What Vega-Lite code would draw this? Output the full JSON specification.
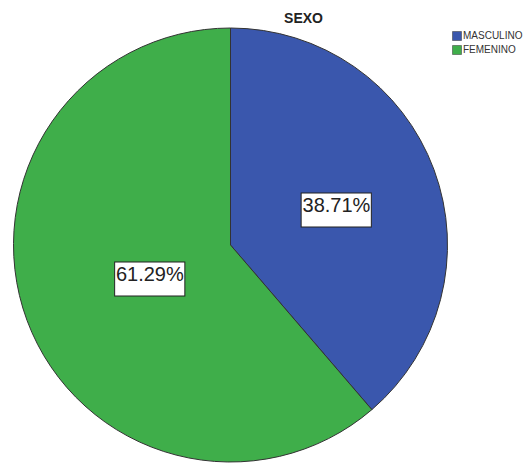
{
  "$schema": "https://vega.github.io/schema/vega-lite/v6.json",
  "autosize": "none",
  "width": 461,
  "height": 438,
  "padding": {"top": 26, "left": 0, "right": 63, "bottom": 0},
  "background": "white",
  "title": {
    "text": "SEXO",
    "font": "Liberation Sans",
    "fontSize": 14,
    "fontWeight": "bold",
    "color": "#222222",
    "anchor": "middle",
    "frame": "group",
    "baseline": "alphabetic",
    "offset": 3,
    "dx": 73,
    "dy": 14
  },
  "data": {
    "values": [
      {"sexo": "MASCULINO", "porcentaje": 38.71, "etiqueta": "38.71%", "orden": 1},
      {"sexo": "FEMENINO", "porcentaje": 61.29, "etiqueta": "61.29%", "orden": 2}
    ]
  },
  "encoding": {
    "theta": {"field": "porcentaje", "type": "quantitative", "stack": true},
    "order": {"field": "orden", "type": "quantitative"}
  },
  "layer": [
    {
      "mark": {"type": "arc", "outerRadius": 217, "stroke": "#333333", "strokeWidth": 1},
      "encoding": {
        "color": {
          "field": "sexo",
          "type": "nominal",
          "sort": ["MASCULINO", "FEMENINO"],
          "scale": {"domain": ["MASCULINO", "FEMENINO"], "range": ["#3a57ad", "#3fae4a"]},
          "legend": {
            "title": null,
            "orient": "none",
            "legendX": 452,
            "legendY": 5,
            "symbolType": "square",
            "symbolSize": 81,
            "symbolStrokeColor": "#333333",
            "symbolStrokeWidth": 0.5,
            "labelFont": "Liberation Sans",
            "labelFontSize": 10,
            "labelColor": "#333333",
            "labelOffset": 1,
            "rowPadding": 2
          }
        }
      }
    },
    {
      "mark": {"type": "text", "font": "DejaVu Sans", "fontSize": 92, "fill": "white", "stroke": "#222222", "strokeWidth": 1, "baseline": "middle", "align": "center"},
      "encoding": {
        "text": {"value": "▬"},
        "radius": {"field": "porcentaje", "type": "quantitative", "scale": {"domain": [38.71, 61.29], "range": [113, 86], "zero": false}}
      }
    },
    {
      "mark": {"type": "text", "font": "Liberation Sans", "fontSize": 20, "fill": "#222222", "baseline": "middle", "align": "center"},
      "encoding": {
        "text": {"field": "etiqueta", "type": "nominal"},
        "radius": {"field": "porcentaje", "type": "quantitative", "scale": {"domain": [38.71, 61.29], "range": [113, 86], "zero": false}}
      }
    }
  ]
}
